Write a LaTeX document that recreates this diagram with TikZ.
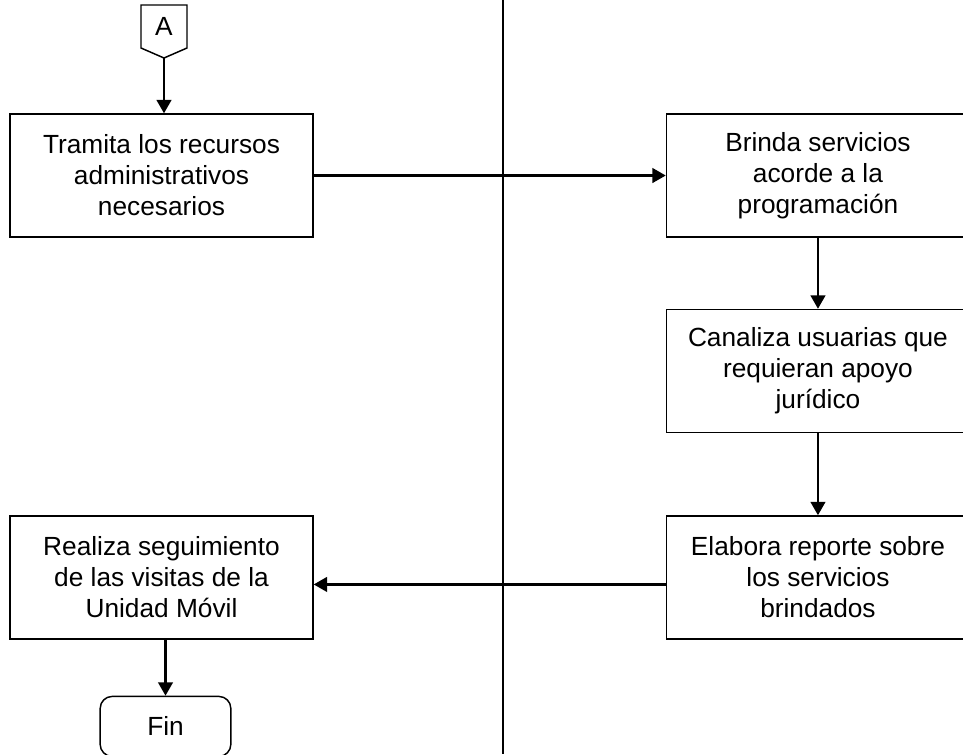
\documentclass[tikz,border=0pt]{standalone}
\usepackage{fontspec}
\setmainfont{Liberation Sans}
\usepackage{tikz}
\usetikzlibrary{positioning,arrows.meta}

\begin{document}
\begin{tikzpicture}[x=0.75pt,y=-0.75pt,
  every node/.style={font=\fontsize{19.7}{23.3}\selectfont,align=center},
  proc/.style={draw,line width=1.1pt,fill=white,minimum width=227.25pt,minimum height=92.25pt,inner sep=0pt},
  term/.style={draw,line width=1.1pt,fill=white,rounded corners=9pt,minimum width=98pt,minimum height=45pt},
  arr/.style={-{Triangle[length=10pt,width=11pt]},line width=1.6pt}]
  \useasboundingbox (0,0) rectangle (963,754);
  \clip (0,0) rectangle (963,754);
  \coordinate (lanetop) at (503,0);
  \coordinate (lanebot) at (503,754);
  \draw[line width=1.2pt] (lanetop) -- (lanebot);
  \draw[line width=1.1pt,fill=white] (141,5) -- (187,5) -- (187,48) -- (164,58) -- (141,48) -- cycle;
  \node (A) at (164,26) {A};
  \coordinate (atip) at (164,58);
  \node[proc] (tram) at (161.5,175.5) {Tramita los recursos\\administrativos\\necesarios};
  \node[proc] (brinda) [right=264pt of tram] {Brinda servicios\\acorde a la\\programación};
  \node[proc] (canal) [below=53.25pt of brinda] {Canaliza usuarias que\\requieran apoyo\\jurídico};
  \node[proc] (elab) [below=61.5pt of canal] {Elabora reporte sobre\\los servicios\\brindados};
  \node[proc] (real) [left=264pt of elab] {Realiza seguimiento\\de las visitas de la\\Unidad Móvil};
  \node[term] (fin) [below=42pt of real,xshift=3pt] {Fin};
  \draw[arr] (atip) -- (atip |- tram.north);
  \draw[arr] (tram) -- (brinda);
  \draw[arr] (brinda) -- (canal);
  \draw[arr] (canal) -- (elab);
  \draw[arr] ([yshift=-5.25pt]elab.west) -- ([yshift=-5.25pt]real.east);
  \draw[arr] (real.south -| fin.north) -- (fin.north);
\end{tikzpicture}
\end{document}
